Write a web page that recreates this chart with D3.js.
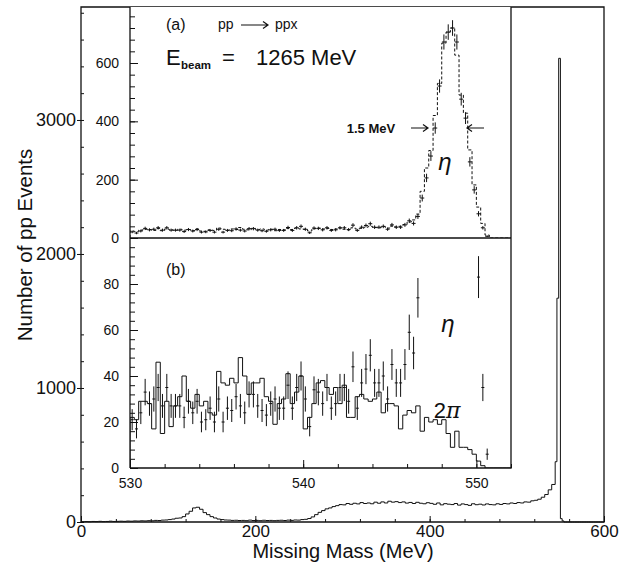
<!DOCTYPE html>
<html>
<head>
<meta charset="utf-8">
<script src="https://cdn.jsdelivr.net/npm/d3@7"></script>
<style>
  body { margin: 0; background: #fff; }
  svg { display: block; }
  text { font-family: "Liberation Sans", Arial, sans-serif; fill: #111; }
</style>
</head>
<body>
<div id="chart"></div>
<script>
// ---- data ----
// full spectrum: 4 MeV bins from 0 to 544, then 2 MeV bins from 544 to 600
const mainCoarseStart = 0, mainCoarseBin = 4;
const mainCoarse = [
  2, 3, 2, 4, 3, 5, 3, 4, 6, 4, 5, 6, 5, 7, 6, 8, 7, 9, 8, 10, 9, 12, 11, 14, 15,
  18, 22, 28, 30, 40, 60, 80, 105, 110, 95, 70, 55, 40, 30, 22,
  18, 15, 14, 12, 13, 11, 12, 10, 14, 11, 12, 10, 13, 11, 12, 10, 12, 13, 11, 14,
  12, 15, 14, 18, 20, 26, 38, 55, 72, 85, 98, 105, 115, 122, 130,
  128, 138, 132, 140, 135, 145, 138, 142, 136, 148, 140, 150, 142, 155, 148, 152, 145, 150, 141, 146,
  138, 147, 140, 136, 144, 139, 132, 142, 128, 137, 133, 130, 138, 126, 135, 130, 124, 136, 129, 133,
  127, 135, 130, 128, 136, 131, 138, 135, 142, 138, 145, 142, 150, 148, 158, 162, 170, 185, 205, 240, 280
];
const mainFineStart = 544, mainFineBin = 2;
const mainFine = [450, 1670, 3460, 25, 8, 0, 0, 0, 0, 0, 0, 0, 0, 0, 0, 0, 0, 0, 0, 0, 0, 0, 0, 0, 0, 0, 0, 0];

// insets: 0.25 MeV bins from 530 to 552
const insetStart = 530, insetBin = 0.25;
const etaData = [
  21, 17, 24, 33, 28, 30, 35, 27, 35, 27, 27, 27, 22, 29, 24, 29, 20, 21, 26, 20,
  30, 20, 26, 25, 31, 27, 24, 32, 32, 27, 25, 23, 28, 30, 26, 26, 36, 26, 35, 40,
  30, 18, 34, 33, 28, 35, 26, 28, 35, 35, 29, 44, 26, 37, 43, 49, 37, 37, 40, 30,
  45, 37, 37, 45, 59, 50, 74, 137, 206, 281, 377, 521, 672, 706, 720, 672, 476, 411, 261, 165,
  83, 35, 6, 0, 0, 0, 0, 0
];
const etaSim = [
  24, 22, 27, 30, 29, 26, 33, 25, 31, 28, 26, 30, 27, 29, 25, 31, 24, 23, 28, 26,
  34, 30, 27, 31, 29, 36, 30, 28, 33, 29, 31, 27, 30, 25, 29, 28, 33, 29, 34, 31,
  30, 24, 32, 34, 31, 33, 29, 31, 34, 30, 28, 35, 31, 33, 37, 40, 36, 35, 39, 34,
  41, 38, 40, 46, 55, 62, 82, 160, 240, 300, 420, 530, 668, 706, 720, 627, 490, 428, 302, 182,
  106, 50, 10, 0, 0, 0, 0, 0
];
const sim2pi = [
  22, 21, 29, 29, 28, 17, 46, 15, 29, 18, 27, 31, 40, 29, 26, 32, 27, 29, 24, 23,
  42, 37, 36, 39, 37, 48, 40, 32, 37, 37, 39, 31, 29, 19, 28, 30, 41, 28, 33, 40,
  17, 22, 28, 37, 38, 35, 32, 35, 28, 36, 22, 22, 31, 32, 30, 29, 30, 33, 24, 28,
  28, 27, 17, 23, 25, 24, 27, 16, 22, 20, 21, 19, 21, 15, 9, 16, 9, 9, 8, 6,
  3, 1, 0, 0, 0, 0, 0, 0
];

const mainXTicks = [0, 200, 400, 600];
const mainYTicks = [0, 1000, 2000, 3000];
const insetXTicks = [530, 540, 550];
const insetATicks = [0, 200, 400, 600];
const insetBTicks = [0, 20, 40, 60, 80];

// ---- layout ----
const width = 634, height = 563;
const svg = d3.select("#chart").append("svg")
  .attr("width", width).attr("height", height);

const x = d3.scaleLinear().domain([0, 600]).range([81, 604]);
const y = d3.scaleLinear().domain([0, 3843]).range([522, 7]);
const xi = d3.scaleLinear().domain([530, 552]).range([130, 511]);
const ya = d3.scaleLinear().domain([0, 792]).range([238, 7]);
const yb = d3.scaleLinear().domain([0, 100]).range([468, 238]);
const fmt = d3.format("d");

// turn bin arrays into a closed step outline
function bins(vals, start, w) {
  return vals.map((v, i) => ({ x0: start + i * w, x1: start + (i + 1) * w, v }));
}
function stepLine(bs, sx, sy) {
  const pts = [[bs[0].x0, 0]].concat(bs.map(b => [b.x0, b.v]), [[bs[bs.length - 1].x1, 0]]);
  return d3.line().x(d => sx(d[0])).y(d => sy(d[1])).curve(d3.curveStepAfter)(pts);
}
function styleAxis(g) {
  g.select(".domain").remove();
  g.selectAll("line").attr("stroke", "#111").attr("stroke-width", 1);
  g.selectAll("text").attr("fill", "#111");
}

// ---- outer plot ----
const mainBins = bins(mainCoarse, mainCoarseStart, mainCoarseBin)
  .concat(bins(mainFine, mainFineStart, mainFineBin));
svg.append("path")
  .attr("d", stepLine(mainBins, x, y))
  .attr("fill", "none").attr("stroke", "#111").attr("stroke-width", 1);

// x axis, ticks pointing up
svg.append("g").attr("transform", "translate(0,522)")
  .call(d3.axisBottom(x).tickValues(d3.range(0, 601, 40)).tickSize(-3).tickFormat(""))
  .call(styleAxis);
svg.append("g").attr("transform", "translate(0,522)")
  .call(d3.axisBottom(x).tickValues(mainXTicks).tickSize(-6).tickPadding(3).tickFormat(fmt))
  .call(styleAxis)
  .selectAll("text").attr("font-size", 17);

// y axis: minor ticks inward, major outward
svg.append("g").attr("transform", "translate(81,0)")
  .call(d3.axisRight(y).tickValues(d3.range(0, 3801, 200)).tickSize(3).tickFormat(""))
  .call(styleAxis);
svg.append("g").attr("transform", "translate(81,0)")
  .call(d3.axisLeft(y).tickValues(mainYTicks).tickSize(4).tickPadding(1).tickFormat(fmt))
  .call(styleAxis)
  .selectAll("text").attr("font-size", 18);

svg.append("path")
  .attr("d", "M81,522V7H604V522H81")
  .attr("fill", "none").attr("stroke", "#111").attr("stroke-width", 1.3);

svg.append("text")
  .attr("x", 343).attr("y", 558)
  .attr("text-anchor", "middle").attr("font-size", 20)
  .text("Missing Mass (MeV)");
svg.append("text")
  .attr("transform", "translate(32,245) rotate(-90)")
  .attr("text-anchor", "middle").attr("font-size", 20.5)
  .text("Number of pp Events");

// ---- inset panels ----
svg.append("rect")
  .attr("x", xi(530)).attr("y", ya(792))
  .attr("width", xi(552) - xi(530)).attr("height", yb(0) - ya(792))
  .attr("fill", "#fff");

svg.append("clipPath").attr("id", "clipA").append("rect")
  .attr("x", xi(530)).attr("y", ya(792)).attr("width", xi(552) - xi(530)).attr("height", ya(0) - ya(792));
svg.append("clipPath").attr("id", "clipB").append("rect")
  .attr("x", xi(530)).attr("y", yb(100)).attr("width", xi(552) - xi(530)).attr("height", yb(0) - yb(100));

const dataBins = bins(etaData, insetStart, insetBin).filter(b => b.v > 0);

// (a) full scale
const ga = svg.append("g").attr("clip-path", "url(#clipA)");
ga.append("path")
  .attr("d", stepLine(bins(etaSim, insetStart, insetBin), xi, ya))
  .attr("fill", "none").attr("stroke", "#111").attr("stroke-width", 1)
  .attr("stroke-dasharray", "3,2");
const crossA = ga.append("g").attr("stroke", "#111").attr("stroke-width", 1)
  .selectAll("g").data(dataBins).join("g");
crossA.append("line")
  .attr("x1", d => xi((d.x0 + d.x1) / 2)).attr("x2", d => xi((d.x0 + d.x1) / 2))
  .attr("y1", d => ya(d.v - Math.sqrt(d.v))).attr("y2", d => ya(d.v + Math.sqrt(d.v)));
crossA.append("line")
  .attr("x1", d => xi((d.x0 + d.x1) / 2) - 2).attr("x2", d => xi((d.x0 + d.x1) / 2) + 2)
  .attr("y1", d => ya(d.v)).attr("y2", d => ya(d.v));

// (b) zoomed
const gb = svg.append("g").attr("clip-path", "url(#clipB)");
gb.append("path")
  .attr("d", stepLine(bins(sim2pi, insetStart, insetBin), xi, yb))
  .attr("fill", "none").attr("stroke", "#111").attr("stroke-width", 1);
const crossB = gb.append("g").attr("stroke", "#111").attr("stroke-width", 1)
  .selectAll("g").data(dataBins).join("g");
crossB.append("line")
  .attr("x1", d => xi((d.x0 + d.x1) / 2)).attr("x2", d => xi((d.x0 + d.x1) / 2))
  .attr("y1", d => yb(d.v - Math.sqrt(d.v))).attr("y2", d => yb(d.v + Math.sqrt(d.v)));
crossB.append("line")
  .attr("x1", d => xi((d.x0 + d.x1) / 2) - 1.5).attr("x2", d => xi((d.x0 + d.x1) / 2) + 1.5)
  .attr("y1", d => yb(d.v)).attr("y2", d => yb(d.v));

// inset axes
svg.append("g").attr("transform", `translate(${xi(530)},0)`)
  .call(d3.axisRight(ya).tickValues(d3.range(0, 792, 40)).tickSize(5).tickFormat(""))
  .call(styleAxis);
svg.append("g").attr("transform", `translate(${xi(530)},0)`)
  .call(d3.axisRight(ya).tickValues(insetATicks).tickSize(8).tickFormat(""))
  .call(styleAxis);
svg.append("g").attr("transform", `translate(${xi(530)},0)`)
  .call(d3.axisLeft(ya).tickValues(insetATicks).tickSize(0).tickPadding(11).tickFormat(fmt))
  .call(styleAxis)
  .selectAll("text").attr("font-size", 14);

svg.append("g").attr("transform", `translate(${xi(530)},0)`)
  .call(d3.axisRight(yb).tickValues(d3.range(0, 100, 4)).tickSize(5).tickFormat(""))
  .call(styleAxis);
svg.append("g").attr("transform", `translate(${xi(530)},0)`)
  .call(d3.axisRight(yb).tickValues(insetBTicks).tickSize(8).tickFormat(""))
  .call(styleAxis);
svg.append("g").attr("transform", `translate(${xi(530)},0)`)
  .call(d3.axisLeft(yb).tickValues(insetBTicks).tickSize(0).tickPadding(11).tickFormat(fmt))
  .call(styleAxis)
  .selectAll("text").attr("font-size", 14);

svg.append("g").attr("transform", `translate(0,${yb(0)})`)
  .call(d3.axisBottom(xi).tickValues(d3.range(530, 553, 2)).tickSize(-4).tickFormat(""))
  .call(styleAxis);
svg.append("g").attr("transform", `translate(0,${yb(0)})`)
  .call(d3.axisBottom(xi).tickValues(insetXTicks).tickSize(-8).tickPadding(10).tickFormat(fmt))
  .call(styleAxis)
  .selectAll("text").attr("font-size", 14);

svg.append("path")
  .attr("d", `M${xi(530)},${yb(0)}V${ya(792)}M${xi(552)},${ya(792)}V${yb(0)}H${xi(530)}M${xi(530)},${ya(0)}H${xi(552)}`)
  .attr("fill", "none").attr("stroke", "#111").attr("stroke-width", 1.3);

// annotations
const arrowPath = (x1, x2, yy) => {
  const s = Math.sign(x2 - x1);
  return `M${x1},${yy}H${x2}M${x2 - 5 * s},${yy - 3.5}L${x2},${yy}L${x2 - 5 * s},${yy + 3.5}`;
};
const ann = svg.append("g");
ann.append("text").attr("x", 166).attr("y", 30).attr("font-size", 16).text("(a)");
ann.append("text").attr("x", 218).attr("y", 29).attr("font-size", 14).text("pp");
ann.append("path").attr("d", arrowPath(241, 268, 25))
  .attr("fill", "none").attr("stroke", "#111").attr("stroke-width", 1.2);
ann.append("text").attr("x", 275).attr("y", 29).attr("font-size", 14).text("ppx");

ann.append("text").attr("x", 166).attr("y", 65).attr("font-size", 22).text("E");
ann.append("text").attr("x", 181).attr("y", 69).attr("font-size", 11.5).attr("font-weight", "bold").text("beam");
ann.append("text").attr("x", 222).attr("y", 65).attr("font-size", 22).text("=");
ann.append("text").attr("x", 256).attr("y", 65).attr("font-size", 22).text("1265 MeV");

ann.append("text").attr("x", 371).attr("y", 133).attr("font-size", 13)
  .attr("font-weight", "bold").attr("text-anchor", "middle").text("1.5 MeV");
ann.append("path").attr("d", arrowPath(411, 428, 128))
  .attr("fill", "none").attr("stroke", "#111").attr("stroke-width", 1.2);
ann.append("path").attr("d", arrowPath(484, 467, 128))
  .attr("fill", "none").attr("stroke", "#111").attr("stroke-width", 1.2);

ann.append("text").attr("x", 445).attr("y", 170).attr("font-size", 24)
  .attr("font-style", "italic").attr("font-family", "DejaVu Serif, serif")
  .attr("text-anchor", "middle").text("\u03b7");

ann.append("text").attr("x", 166).attr("y", 275).attr("font-size", 16).text("(b)");
ann.append("text").attr("x", 448).attr("y", 332).attr("font-size", 24)
  .attr("font-style", "italic").attr("font-family", "DejaVu Serif, serif")
  .attr("text-anchor", "middle").text("\u03b7");
const tp = ann.append("text").attr("x", 447).attr("y", 418).attr("font-size", 22)
  .attr("text-anchor", "middle");
tp.append("tspan").text("2");
tp.append("tspan").attr("font-style", "italic").attr("font-family", "DejaVu Serif, serif").text("\u03c0");
</script>
</body>
</html>
